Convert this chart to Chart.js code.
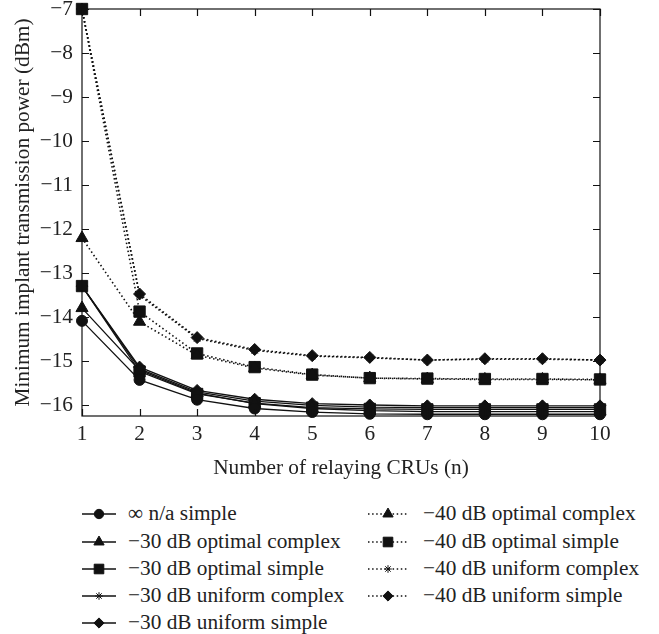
<!DOCTYPE html>
<html>
<head>
<meta charset="utf-8">
<script src="https://cdn.jsdelivr.net/npm/chart.js@4.4.1/dist/chart.umd.min.js"></script>
<style>
  body { margin: 0; background: #fff; }
  #wrap { position: relative; width: 659px; height: 634px; }
  #chart { position: absolute; left: 0; top: 0; }
  .lg-text { position: absolute; line-height: 24px; color: #222; white-space: nowrap; }
  .lg-sample { position: absolute; }
</style>
</head>
<body>
<div id="wrap">
  <canvas id="chart" width="659" height="500"></canvas>
</div>
<script>
// data
const nValues = [1, 2, 3, 4, 5, 6, 7, 8, 9, 10];
const yTicks = [-16, -15, -14, -13, -12, -11, -10, -9, -8, -7];

const infSimple    = [-14.08, -15.42, -15.87, -16.07, -16.15, -16.19, -16.20, -16.20, -16.20, -16.20];
const opt30Complex = [-13.79, -15.20, -15.72, -15.96, -16.07, -16.12, -16.14, -16.14, -16.14, -16.14];
const opt30Simple  = [-13.29, -15.23, -15.74, -15.95, -16.05, -16.08, -16.09, -16.09, -16.09, -16.09];
const uni30Complex = [-13.29, -15.17, -15.69, -15.90, -16.00, -16.04, -16.05, -16.05, -16.05, -16.05];
const uni30Simple  = [-13.29, -15.13, -15.66, -15.86, -15.96, -15.99, -16.01, -16.01, -16.01, -16.01];
const opt40Complex = [-12.20, -14.10, -14.86, -15.15, -15.31, -15.38, -15.40, -15.41, -15.41, -15.42];
const opt40Simple  = [-7.00, -13.87, -14.82, -15.13, -15.30, -15.38, -15.39, -15.40, -15.40, -15.41];
const uni40Complex = [-7.00, -13.50, -14.48, -14.75, -14.88, -14.92, -14.97, -14.95, -14.95, -14.97];
const uni40Simple  = [-7.00, -13.47, -14.46, -14.73, -14.87, -14.91, -14.97, -14.94, -14.94, -14.97];

const seriesLabels = [
  "\u221e n/a simple",
  "\u221230 dB optimal complex",
  "\u221230 dB optimal simple",
  "\u221230 dB uniform complex",
  "\u221230 dB uniform simple",
  "\u221240 dB optimal complex",
  "\u221240 dB optimal simple",
  "\u221240 dB uniform complex",
  "\u221240 dB uniform simple"
];
const seriesData = [infSimple, opt30Complex, opt30Simple, uni30Complex, uni30Simple,
                    opt40Complex, opt40Simple, uni40Complex, uni40Simple];
const markers = ["circle", "triangle", "rect", "star", "rectRot", "triangle", "rect", "star", "rectRot"];
const markerSize = { circle: 5.5, triangle: 7, rect: 8, star: 4.5, rectRot: 6 };

const INK = "#111";

// pick an installed serif face, then size it so the legend text is as wide as in the figure
const measure = document.createElement("canvas").getContext("2d");
function textWidth(font, s) { measure.font = font; return measure.measureText(s).width; }
const probe = "Minimum implant transmission 0123";
function installed(name) {
  const a = textWidth('40px "' + name + '", monospace', probe);
  const b = textWidth('40px monospace', probe);
  const c = textWidth('40px "' + name + '", sans-serif', probe);
  const d = textWidth('40px sans-serif', probe);
  return a !== b && c !== d;
}
const serifFaces = ["Liberation Serif", "Times New Roman", "Tinos", "Noto Serif", "DejaVu Serif"];
let face = serifFaces.find(installed) || "serif";
const FONT = face === "serif" ? "serif" : '"' + face + '", serif';
let FS = Math.round(10 * 213 / textWidth("10px " + FONT, "\u221230 dB optimal complex") * 10) / 10;
FS = Math.max(16, Math.min(22, FS));

function isDotted(i) { return i >= 5; }

const datasets = seriesData.map((vals, i) => ({
  label: seriesLabels[i],
  data: nValues.map((n, k) => ({ x: n, y: vals[k] })),
  borderColor: INK,
  backgroundColor: INK,
  borderWidth: isDotted(i) ? 1.6 : 1.3,
  borderDash: isDotted(i) ? [1.5, 2.6] : [],
  pointStyle: markers[i],
  pointRadius: markerSize[markers[i]],
  pointBorderWidth: 1,
  pointBackgroundColor: INK,
  pointBorderColor: INK,
  tension: 0,
  clip: false
}));

// frame with inward tick marks on all four sides
const framePlugin = {
  id: "frame",
  afterDraw(chart) {
    const ctx = chart.ctx;
    const a = chart.chartArea;
    const xs = chart.scales.x, ys = chart.scales.y;
    const len = 7;
    ctx.save();
    ctx.strokeStyle = INK;
    ctx.lineWidth = 1.2;
    ctx.setLineDash([]);
    ctx.strokeRect(a.left, a.top, a.right - a.left, a.bottom - a.top);
    ctx.beginPath();
    xs.ticks.forEach(t => {
      const px = Math.round(xs.getPixelForValue(t.value)) + 0.5;
      ctx.moveTo(px, a.bottom); ctx.lineTo(px, a.bottom - len);
      ctx.moveTo(px, a.top); ctx.lineTo(px, a.top + len);
    });
    ys.ticks.forEach(t => {
      const py = Math.round(ys.getPixelForValue(t.value)) + 0.5;
      ctx.moveTo(a.left, py); ctx.lineTo(a.left + len, py);
      ctx.moveTo(a.right, py); ctx.lineTo(a.right - len, py);
    });
    ctx.stroke();
    ctx.restore();
  }
};

new Chart(document.getElementById("chart"), {
  type: "line",
  data: { datasets: datasets },
  options: {
    responsive: false,
    devicePixelRatio: 1,
    animation: false,
    layout: { padding: { top: 7, right: 59, left: 0, bottom: 0 } },
    plugins: { legend: { display: false }, tooltip: { enabled: false } },
    scales: {
      x: {
        type: "linear",
        min: 1,
        max: 10,
        afterBuildTicks: s => { s.ticks = nValues.map(v => ({ value: v })); },
        ticks: { color: "#222", font: { family: FONT, size: FS }, padding: 6 },
        grid: { display: false, drawTicks: false },
        border: { display: false },
        title: {
          display: true,
          text: "Number of relaying CRUs (n)",
          color: "#222",
          font: { family: FONT, size: FS },
          padding: { top: 0, bottom: 19 }
        },
        afterFit: s => { s.height = 84; s.paddingLeft = 0; s.paddingRight = 0; }
      },
      y: {
        type: "linear",
        min: -16.24,
        max: -7,
        afterBuildTicks: s => { s.ticks = yTicks.map(v => ({ value: v })); },
        ticks: {
          color: "#222",
          font: { family: FONT, size: FS },
          padding: 9,
          callback: v => "\u2212" + Math.abs(v)
        },
        grid: { display: false, drawTicks: false },
        border: { display: false },
        title: {
          display: true,
          text: "Minimum implant transmission power (dBm)",
          color: "#222",
          font: { family: FONT, size: FS },
          padding: { top: 11, bottom: 0 }
        },
        afterFit: s => { s.width = 82; s.paddingTop = 0; s.paddingBottom = 0; }
      }
    }
  },
  plugins: [framePlugin]
});

// legend in two columns below the chart
const wrap = document.getElementById("wrap");
const rowY = [514, 541.5, 568.5, 596, 623];
seriesLabels.forEach((label, i) => {
  const col = i < 5 ? 0 : 1;
  const row = col === 0 ? i : i - 5;
  const y = rowY[row];
  const sx = col === 0 ? 80 : 366;
  const sw = col === 0 ? 38 : 44;
  const cv = document.createElement("canvas");
  cv.width = sw; cv.height = 22;
  cv.className = "lg-sample";
  cv.style.left = sx + "px";
  cv.style.top = (y - 11) + "px";
  wrap.appendChild(cv);
  const ctx = cv.getContext("2d");
  ctx.strokeStyle = INK;
  ctx.fillStyle = INK;
  ctx.lineWidth = isDotted(i) ? 1.6 : 1.3;
  ctx.setLineDash(isDotted(i) ? [1.5, 2.6] : []);
  ctx.beginPath();
  ctx.moveTo(2, 11); ctx.lineTo(sw - 2, 11);
  ctx.stroke();
  ctx.setLineDash([]);
  ctx.lineWidth = 1;
  Chart.helpers.drawPoint(ctx, { pointStyle: markers[i], rotation: 0, radius: markerSize[markers[i]] * 0.85, borderWidth: 1 }, sw / 2, 11);

  const tx = document.createElement("div");
  tx.className = "lg-text";
  tx.textContent = label;
  tx.style.fontFamily = FONT;
  tx.style.fontSize = FS + "px";
  tx.style.left = (col === 0 ? 128 : 423) + "px";
  tx.style.top = (y - 13) + "px";
  wrap.appendChild(tx);
});
</script>
</body>
</html>
